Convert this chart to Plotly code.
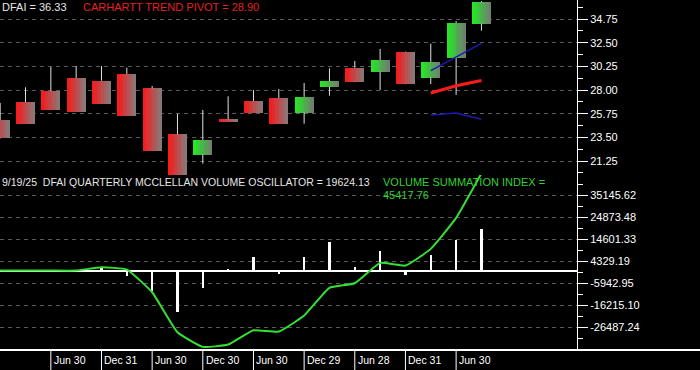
import plotly.graph_objects as go

# ---------------- data ----------------
quarter_ends = ["Dec 31 20", "Mar 31 21", "Jun 30 21", "Sep 30 21", "Dec 31 21", "Mar 31 22",
                "Jun 30 22", "Sep 30 22", "Dec 30 22", "Mar 31 23", "Jun 30 23", "Sep 29 23",
                "Dec 29 23", "Mar 28 24", "Jun 28 24", "Sep 30 24", "Dec 31 24", "Mar 31 25",
                "Jun 30 25", "Sep 19 25"]
opens = [25.15, 26.86, 27.93, 29.14, 28.88, 29.52, 28.16, 23.79, 21.85, 25.22,
         26.96, 27.24, 25.84, 28.31, 30.12, 29.74, 31.61, 29.17, 31.07, 34.30]
highs = [26.77, 28.26, 30.19, 30.28, 30.28, 30.12, 28.38, 25.72, 26.10, 27.40,
         28.00, 28.10, 28.67, 30.06, 30.76, 31.90, 31.65, 32.40, 34.56, 36.45]
lows = [23.40, 24.80, 26.13, 25.91, 26.67, 25.53, 22.23, 19.95, 21.00, 25.05,
        25.84, 24.80, 24.80, 27.46, 28.75, 28.00, 28.55, 28.57, 27.53, 33.64]
closes = [23.47, 24.80, 26.13, 25.91, 26.67, 25.53, 22.23, 19.95, 23.25, 25.05,
          25.84, 24.80, 27.34, 28.86, 28.79, 30.85, 28.57, 30.66, 34.37, 36.33]

band_start = 17
upper_band = [29.84, 31.17, 32.44]
trend_pivot = [27.72, 28.41, 28.90]
lower_band = [25.62, 25.81, 25.22]

oscillator = [-300, -400, -400, -400, 1500, -2600, -9400, -19470, -8260, 900,
              6500, -1700, 6500, 13200, 1870, 9000, -2190, 7470, 14470, 19624.13]
summation = [0, 0, 0, 0, 1540, 470, -10130, -28800, -35630, -34550,
             -27870, -28480, -21010, -8080, -5930, 3600, 2330, 10130, 24600, 45417.76]

date_label_idx = [2, 4, 6, 8, 10, 12, 14, 16, 18]
date_labels = ["Jun 30", "Dec 31", "Jun 30", "Dec 30", "Jun 30", "Dec 29", "Jun 28", "Dec 31", "Jun 30"]

price_ticks = [21.25, 23.50, 25.75, 28.00, 30.25, 32.50, 34.75]
osc_ticks = [-26487.24, -16215.10, -5942.95, 4329.19, 14601.33, 24873.48, 35145.62]

# ---------------- figure ----------------
W, H = 700, 370
ML, MR, MT, MB = 0, 123, 0, 20
PW, PH = W - ML - MR, H - MT - MB
FONT = "Arial, Liberation Sans, sans-serif"

n = len(opens)
idx = list(range(n))
body_w = 0.75

fig = go.Figure()


def lerp(c1, c2, t):
    return "rgb(%d,%d,%d)" % tuple(round(a + (b - a) * t) for a, b in zip(c1, c2))


red_l, red_r = (255, 20, 20), (128, 128, 128)
grn_l, grn_r = (30, 240, 30), (118, 118, 118)

# candle bodies drawn as gradient slices
N = 8
body_base = [min(o, c) for o, c in zip(opens, closes)]
body_h = [max(abs(c - o), 0.15) for o, c in zip(opens, closes)]
for k in range(N):
    t = (k + 0.5) / N
    cols = [lerp(grn_l, grn_r, t) if c > o else lerp(red_l, red_r, t) for o, c in zip(opens, closes)]
    fig.add_trace(go.Bar(x=idx, y=body_h, base=body_base, width=body_w / N + 0.002,
                         offset=-body_w / 2 + k * body_w / N, marker=dict(color=cols, line=dict(width=0)),
                         xaxis="x", yaxis="y", showlegend=False, hoverinfo="skip"))

# wicks (outside the bodies)
wx, wy = [], []
for i in idx:
    top = max(opens[i], closes[i])
    bot = min(opens[i], closes[i])
    if highs[i] > top:
        wx += [i, i, None]
        wy += [top, highs[i], None]
    if lows[i] < bot:
        wx += [i, i, None]
        wy += [lows[i], bot, None]
fig.add_trace(go.Scatter(x=wx, y=wy, mode="lines", line=dict(color="#e0e0e0", width=1),
                         xaxis="x", yaxis="y", showlegend=False, hoverinfo="skip"))

band_x = list(range(band_start, band_start + len(upper_band)))
fig.add_trace(go.Scatter(x=band_x, y=upper_band, mode="lines", line=dict(color="#1a1ab4", width=1.5),
                         xaxis="x", yaxis="y", showlegend=False))
fig.add_trace(go.Scatter(x=band_x, y=lower_band, mode="lines", line=dict(color="#1a1ab4", width=1.5),
                         xaxis="x", yaxis="y", showlegend=False))
fig.add_trace(go.Scatter(x=band_x, y=trend_pivot, mode="lines", line=dict(color="#ff1a1a", width=3),
                         xaxis="x", yaxis="y", showlegend=False))

# oscillator bars
fig.add_trace(go.Bar(x=idx, y=oscillator, width=0.085, marker=dict(color="white", line=dict(width=0)),
                     xaxis="x", yaxis="y2", showlegend=False))
# summation index line
fig.add_trace(go.Scatter(x=idx, y=summation, mode="lines",
                         line=dict(color="#33e033", width=2, shape="spline", smoothing=0.4),
                         xaxis="x", yaxis="y2", showlegend=False))

x0 = -0.17 / 25.33
x1 = x0 + PW / 25.33

grid = dict(showgrid=True, gridcolor="#5a5a5a", griddash="4px,4px", gridwidth=1)
axis_common = dict(side="right", anchor="x", ticks="outside", ticklen=10, tickcolor="white", tickwidth=1,
                   showline=True, linecolor="white", linewidth=1,
                   tickfont=dict(family=FONT, size=11, color="white"), **grid)

fig.update_layout(
    width=W, height=H, margin=dict(l=ML, r=MR, t=MT, b=MB),
    paper_bgcolor="black", plot_bgcolor="black",
    barmode="overlay", bargap=0, showlegend=False,
    xaxis=dict(range=[x0, x1], showgrid=False, zeroline=False, showticklabels=False, ticks="",
               showline=False, anchor="y2", domain=[0, 1]),
    yaxis=dict(domain=[0.5, 1], range=[19.92, 36.556], tickmode="array", tickvals=price_ticks,
               ticktext=["%.2f" % v for v in price_ticks], zeroline=False,
               minor=dict(tick0=price_ticks[0] - 1.125, dtick=2.25, ticks="outside", ticklen=5,
                          tickcolor="white", showgrid=False),
               **axis_common),
    yaxis2=dict(domain=[0, 0.5], range=[-37086, 44624], tickmode="array", tickvals=osc_ticks,
                ticktext=["%.2f" % v for v in osc_ticks], zeroline=True, zerolinecolor="white",
                zerolinewidth=2,
                minor=dict(tick0=osc_ticks[0] - 5136.07, dtick=10272.14, ticks="outside", ticklen=5,
                           tickcolor="white", showgrid=False),
                **axis_common),
)

shapes = [dict(type="line", xref="paper", yref="paper", x0=0, x1=W / PW, y0=0, y1=0,
               line=dict(color="white", width=2))]
annotations = []
for i, lab in zip(date_label_idx, date_labels):
    shapes.append(dict(type="line", xref="x", yref="paper", x0=i, x1=i, y0=0, y1=-MB / PH,
                       line=dict(color="white", width=1)))
    annotations.append(dict(x=i, xref="x", y=-10 / PH, yref="paper", text=lab, showarrow=False,
                            xanchor="left", yanchor="middle", xshift=1,
                            font=dict(family=FONT, size=10.5, color="white")))


def label(px, py, text, color, size=10.5):
    annotations.append(dict(x=px / PW, xref="paper", y=1 - py / PH, yref="paper", text=text,
                            showarrow=False, xanchor="left", yanchor="middle",
                            font=dict(family=FONT, size=size, color=color)))


label(0, 7, "DFAI = 36.33", "#e6e6e6", 11)
label(81, 7, "CARHARTT TREND PIVOT = 28.90", "#e62020", 11)
label(0, 182, "9/19/25  DFAI QUARTERLY MCCLELLAN VOLUME OSCILLATOR = 19624.13", "#e6e6e6")
label(381, 182, "VOLUME SUMMATION INDEX =", "#33d033", 11)
label(381, 195, "45417.76", "#33d033", 11)

fig.update_layout(shapes=shapes, annotations=annotations)
fig.write_html("out.html", config={"displayModeBar": False},
               post_script="document.body.style.margin='0px';document.body.style.padding='0px';")
